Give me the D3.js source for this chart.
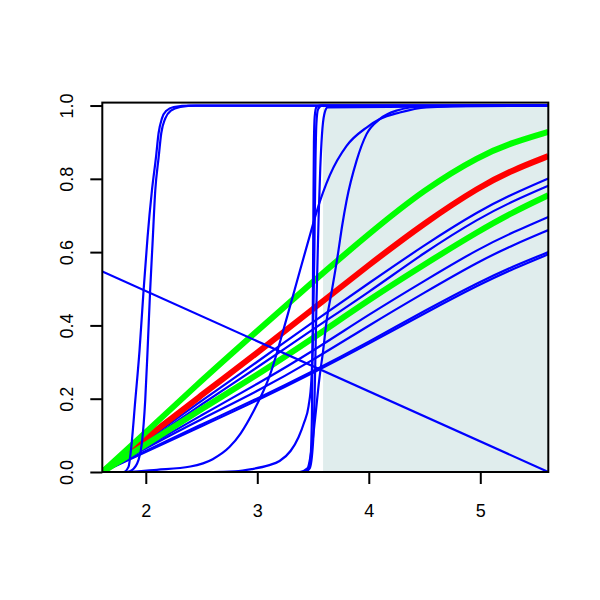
<!DOCTYPE html>
<html><head><meta charset="utf-8">
<script src="https://cdn.jsdelivr.net/npm/d3@7"></script>
<style>body{margin:0;background:#fff}svg{display:block}</style>
</head><body>
<svg id="c" width="600" height="600"></svg>
<script>
// ---- data ----
const xTicks = [2, 3, 4, 5];
const yTicks = [0, 0.2, 0.4, 0.6, 0.8, 1.0];
const yTickLabels = ["0.0", "0.2", "0.4", "0.6", "0.8", "1.0"];
const shadeX = [3.59, 5.61];
const shadeY = [0, 1];

// fan curves (common x grid)
const xFan = [1.61, 2.0, 2.5, 3.0, 3.5, 4.0, 4.5, 5.0, 5.3, 5.61];
const greenUpper = [0, 0.108, 0.25, 0.385, 0.52, 0.65, 0.772, 0.864, 0.9, 0.928];
const redMid     = [0, 0.092, 0.21, 0.325, 0.445, 0.565, 0.68, 0.78, 0.825, 0.862];
const greenLower = [0, 0.075, 0.172, 0.265, 0.365, 0.47, 0.567, 0.66, 0.71, 0.755];
const fanB1 = [0, 0.085, 0.195, 0.30, 0.41, 0.515, 0.62, 0.715, 0.76, 0.801];
const fanB2 = [0, 0.08, 0.185, 0.285, 0.39, 0.49, 0.60, 0.695, 0.74, 0.781];
const fanB3 = [0, 0.068, 0.155, 0.24, 0.33, 0.43, 0.522, 0.612, 0.655, 0.696];
const fanB4 = [0, 0.065, 0.145, 0.22, 0.305, 0.40, 0.49, 0.577, 0.62, 0.66];
const fanB5 = [0, 0.058, 0.13, 0.20, 0.275, 0.355, 0.44, 0.52, 0.562, 0.600];
const fanB6 = [0, 0.055, 0.125, 0.195, 0.27, 0.35, 0.433, 0.513, 0.555, 0.594];

// straight decreasing line
const lineX = [1.61, 5.61];
const lineY = [0.547, 0];

// steep curves near x = 2
const s1X = [1.61, 1.80, 1.845, 1.867, 1.906, 1.944, 1.98, 2.001, 2.016, 2.055, 2.091, 2.115, 2.145, 2.185, 2.25, 2.4, 5.61];
const s1Y = [0, 0, 0.014, 0.06, 0.196, 0.332, 0.495, 0.58, 0.641, 0.768, 0.858, 0.925, 0.965, 0.986, 0.996, 1.0, 1.0];
const s2X = [1.61, 1.83, 1.876, 1.935, 1.965, 1.995, 2.016, 2.039, 2.060, 2.085, 2.115, 2.139, 2.175, 2.225, 2.31, 2.45, 5.61];
const s2Y = [0, 0, 0.005, 0.033, 0.079, 0.196, 0.332, 0.495, 0.62, 0.768, 0.858, 0.925, 0.965, 0.986, 0.996, 1.0, 1.0];

// wide sigmoid curves
const w1X = [1.61, 1.8, 2.1, 2.4, 2.6, 2.75, 2.85, 2.965, 3.114, 3.264, 3.383, 3.485, 3.532, 3.651, 3.801, 3.98, 4.099, 4.278, 4.517, 5.0, 5.61];
const w1Y = [0, 0, 0.006, 0.015, 0.035, 0.068, 0.105, 0.165, 0.265, 0.42, 0.55, 0.66, 0.71, 0.81, 0.89, 0.94, 0.963, 0.981, 0.995, 1.0, 1.0];
const w2X = [1.61, 3.38, 3.45, 3.49, 3.52, 3.555, 3.59, 3.625, 3.666, 3.726, 3.76, 3.801, 3.89, 3.98, 4.099, 4.248, 4.5, 5.0, 5.61];
const w2Y = [0, 0, 0.01, 0.07, 0.15, 0.25, 0.33, 0.42, 0.49, 0.6, 0.67, 0.741, 0.849, 0.922, 0.963, 0.986, 0.998, 1.0, 1.0];
const w3X = [1.61, 2.6, 2.8, 2.95, 3.1, 3.2, 3.3, 3.37, 3.42, 3.46, 3.485, 3.50, 3.512, 3.522, 3.53, 3.545, 3.58, 5.61];
const w3Y = [0, 0, 0.002, 0.008, 0.018, 0.03, 0.058, 0.095, 0.135, 0.18, 0.25, 0.38, 0.6, 0.85, 0.95, 0.99, 1.0, 1.0];

// near-vertical curves at x = 3.5
const v1X = [1.61, 3.40, 3.45, 3.475, 3.49, 3.497, 3.503, 3.508, 3.515, 3.53, 3.56, 5.61];
const v1Y = [0, 0, 0.004, 0.03, 0.15, 0.4, 0.7, 0.9, 0.97, 0.995, 1.0, 1.0];
const v2X = [1.61, 3.42, 3.47, 3.50, 3.515, 3.53, 3.55, 3.565, 3.58, 3.60, 3.63, 5.61];
const v2Y = [0, 0, 0.01, 0.08, 0.22, 0.45, 0.695, 0.83, 0.92, 0.975, 0.995, 1.0];

// ---- drawing ----
const svg = d3.select("#c");
const x = d3.scaleLinear().domain([1.61, 5.61]).range([102.3, 548.3]);
const y = d3.scaleLinear().domain([0, 1.008]).range([472, 102.6]);

const g = svg.append("g");
svg.append("defs").append("clipPath").attr("id", "pc")
  .append("rect").attr("x", x(1.61)).attr("y", y(1.008))
  .attr("width", x(5.61) - x(1.61)).attr("height", y(0) - y(1.008));

g.append("rect")
  .attr("x", x(shadeX[0])).attr("y", y(shadeY[1]))
  .attr("width", x(shadeX[1]) - x(shadeX[0])).attr("height", y(shadeY[0]) - y(shadeY[1]))
  .attr("fill", "#E0EDED");

const plot = g.append("g").attr("clip-path", "url(#pc)");
const lineMono = d3.line().x(d => x(d[0])).y(d => y(d[1])).curve(d3.curveMonotoneX);
const lineSmooth = d3.line().x(d => x(d[0])).y(d => y(d[1])).curve(d3.curveBasis);
function draw(xs, ys, color, w, gen) {
  plot.append("path").datum(xs.map((v, i) => [v, ys[i]]))
    .attr("d", gen || lineMono).attr("fill", "none").attr("stroke", color)
    .attr("stroke-width", w).attr("stroke-linejoin", "round").attr("stroke-linecap", "butt");
}
const blue = "#0000FF";
[fanB1, fanB2, fanB3, fanB4, fanB5, fanB6].forEach(s => draw(xFan, s, blue, 2.2, lineSmooth));
draw(xFan, redMid, "#FF0000", 6, lineSmooth);
draw(xFan, greenUpper, "#00FF00", 6, lineSmooth);
draw(xFan, greenLower, "#00FF00", 6, lineSmooth);
draw(lineX, lineY, blue, 2.2);
draw(s1X, s1Y, blue, 2.2);
draw(s2X, s2Y, blue, 2.2);
draw(w1X, w1Y, blue, 2.2);
draw(w2X, w2Y, blue, 2.2);
draw(w3X, w3Y, blue, 2.2);
draw(v1X, v1Y, blue, 2.2);
draw(v2X, v2Y, blue, 2.2);

// box
g.append("rect").attr("x", x(1.61)).attr("y", y(1.008))
  .attr("width", x(5.61) - x(1.61)).attr("height", y(0) - y(1.008))
  .attr("fill", "none").attr("stroke", "#000").attr("stroke-width", 2);

// axes
const font = "'Liberation Sans', Arial, Helvetica, sans-serif";
const xAxis = d3.axisBottom(x).tickValues(xTicks).tickSize(12).tickPadding(20).tickFormat(d3.format("d"));
const gx = svg.append("g").attr("transform", `translate(0,${y(0)})`).call(xAxis);
gx.select(".domain").remove();
gx.selectAll(".tick line").attr("stroke", "#000").attr("stroke-width", 2);
gx.selectAll(".tick text").attr("font-family", font).attr("font-size", 18).attr("fill", "#000");

const yAxis = d3.axisLeft(y).tickValues(yTicks).tickSize(12).tickFormat((d, i) => yTickLabels[i]);
const gy = svg.append("g").attr("transform", `translate(${x(1.61)},0)`).call(yAxis);
gy.select(".domain").remove();
gy.selectAll(".tick line").attr("stroke", "#000").attr("stroke-width", 2);
gy.selectAll(".tick text").attr("font-family", font).attr("font-size", 18).attr("fill", "#000")
  .attr("text-anchor", "middle").attr("dy", null)
  .attr("x", null)
  .attr("transform", "translate(-29,0) rotate(-90)")
  .attr("dominant-baseline", "auto");
</script>
</body></html>
